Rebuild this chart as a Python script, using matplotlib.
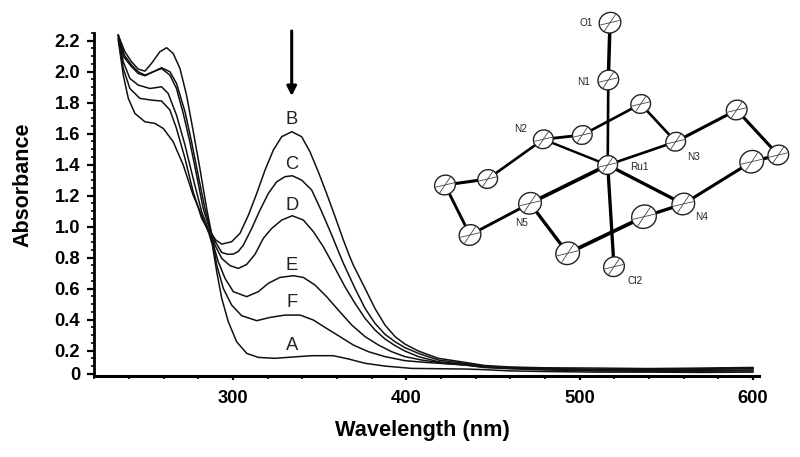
import matplotlib
matplotlib.use('Agg')
import matplotlib.pyplot as plt
from matplotlib.patches import Ellipse
from matplotlib.ticker import MultipleLocator

plt.rcParams['font.family'] = ['Liberation Sans', 'DejaVu Sans']

# Spectra (wavelength nm, absorbance)
tail_w = [445, 460, 480, 510, 540, 570, 600]

wl_a = [233.8, 236.7, 239.6, 243.4, 249.2, 254.9, 259.8, 265.5, 271.3, 277, 281.9, 286.1,
        288.1, 290.6, 293.5, 297.3, 302.1, 307.9, 314.6, 324.2, 333.9, 345.4, 357.9, 366.6,
        376.2, 387.7, 403.1, 433.9] + tail_w
abs_a = [2.204, 1.978, 1.828, 1.731, 1.677, 1.667, 1.634, 1.548, 1.398, 1.204, 1.075, .957,
         .882, .71, .538, .387, .258, .183, .157, .151, .159, .168, .168, .147,
         .119, .101, .086, .082, .078, .07, .066, .062, .062, .06, .062]

wl_b = [233.8, 237.6, 241.5, 245.3, 249.2, 253, 257.8, 261.7, 265.5, 269.4, 273.2, 277.1, 280.9, 284.8, 287.6,
        290, 293.5, 299.2, 304, 308.9, 313.7, 318.5, 323.3, 328.1, 333.9, 339.6, 344.4, 349.2, 354, 358.9,
        363.7, 367, 369.4, 376.2, 381.9, 387.7, 393.5, 399.2, 407, 418.5, 433.9] + tail_w
abs_b = [2.236, 2.129, 2.064, 2.017, 2.004, 2.054, 2.129, 2.155, 2.118, 2.021, 1.849, 1.613, 1.376, 1.118, .957,
         .915, .888, .903, .957, 1.075, 1.215, 1.366, 1.495, 1.581, 1.613, 1.581, 1.484, 1.355, 1.215, 1.065,
         .914, .817, .753, .602, .473, .366, .291, .243, .198, .151, .125, .105, .095, .09, .088, .085, .088, .092]

wl_c = [233.8, 237.3, 241.5, 245.3, 249.2, 254, 258.8, 263.6, 267.4, 272.3, 276.1, 279.9, 283.8, 287.6,
        290, 293.5, 297, 300.2, 303, 306, 310.8, 315.6, 320.4, 325.2, 330, 334.2, 339.6, 345.4, 351.2, 357,
        361, 363.7, 370.4, 376.2, 381.9, 387.7, 393.5, 399.2, 407, 418.5, 433.9] + tail_w
abs_c = [2.236, 2.107, 2.043, 2.0, 1.978, 2.0, 2.026, 2.0, 1.925, 1.742, 1.548, 1.333, 1.118, .957,
         .9, .834, .822, .824, .84, .882, .989, 1.108, 1.215, 1.29, 1.323, 1.329, 1.301, 1.237, 1.097, .946,
         .836, .764, .602, .473, .377, .306, .258, .22, .183, .14, .118, .10, .092, .086, .08, .082, .084, .088]

wl_d = [233.8, 236.9, 241.5, 245.3, 249.2, 254, 258.8, 263.6, 267.4, 271.3, 275.1, 279, 282.8, 287.3,
        289.6, 293.5, 298.3, 303.1, 307.9, 312.7, 317.5, 322.3, 328.1, 334.2, 340.6, 346.4, 352.1, 357.9,
        364.6, 370.4, 376.2, 381.9, 387.7, 393.5, 399.2, 407, 418.5, 433.9] + tail_w
abs_d = [2.236, 2.097, 2.032, 1.989, 1.974, 2.0, 2.021, 1.978, 1.892, 1.731, 1.548, 1.333, 1.118, .957,
         .882, .796, .749, .731, .757, .822, .925, .989, 1.043, 1.071, 1.043, .968, .871, .753,
         .613, .506, .409, .334, .276, .233, .198, .162, .129, .112, .098, .09, .084, .076, .078, .08, .084]

wl_e = [233.8, 236.7, 240.5, 245.3, 252.1, 258.8, 262.6, 267.4, 272.3, 277, 281.9, 286.7,
        288.7, 291.5, 295.4, 300.2, 307.9, 314.6, 320.4, 327.1, 334.8, 340.6, 347.3, 354, 360.8,
        368.5, 376.2, 383.9, 391.5, 399.2, 408.9, 422.3, 433.9] + tail_w
abs_e = [2.226, 2.064, 1.957, 1.914, 1.892, 1.903, 1.86, 1.72, 1.527, 1.312, 1.097, .957,
         .882, .774, .667, .581, .549, .581, .635, .673, .684, .673, .624, .549, .462,
         .366, .291, .237, .194, .162, .14, .118, .108, .094, .086, .08, .074, .072, .072, .076]

wl_f = [233.8, 236.7, 240.5, 246.3, 253, 258.8, 263.6, 267.4, 272.3, 277, 281.9, 286.7,
        288.7, 290.6, 294.4, 299.2, 305, 313.7, 321.4, 330, 338.7, 346.4, 354, 361.7,
        369.4, 378.1, 387.7, 399.2, 410.8, 433.9] + tail_w
abs_f = [2.215, 2.021, 1.892, 1.828, 1.817, 1.811, 1.753, 1.634, 1.441, 1.226, 1.054, .957,
         .882, .753, .602, .495, .426, .394, .415, .43, .43, .398, .344, .291,
         .237, .194, .162, .136, .125, .108, .092, .084, .076, .07, .068, .068, .07]

curve_labels = ['B', 'C', 'D', 'E', 'F', 'A']
curve_label_y = [1.69, 1.40, 1.14, .75, .51, .235]
y_ticks = [.05, .2, .4, .6, .8, 1.0, 1.2, 1.4, 1.6, 1.8, 2.0, 2.2]
y_tick_labels = ['0', '0.2', '0.4', '0.6', '0.8', '1.0', '1.2', '1.4', '1.6', '1.8', '2.0', '2.2']
x_ticks = [300, 400, 500, 600]

# Structure inset, positions in picture pixels
atom_names = ['O1', 'N1', 'Ru1', 'N2', 'N3', 'N4', 'N5', 'Cl2', 'C1', 'C2', 'C3', 'C4', 'C5', 'C6', 'C7', 'C8', 'C9', 'C10']
atom_x = [610, 608.3, 607.7, 543.3, 675.7, 683.3, 530, 614, 640.7, 582.3, 736.7, 778.3, 751.7, 644, 567.7, 470, 445, 487.7]
atom_y = [22.7, 80, 165, 139.3, 141.7, 204, 203.3, 266.7, 104, 135, 110, 155, 161.7, 216.7, 253.3, 235, 185, 179]
atom_r = [11, 10.5, 10, 10, 10, 11.5, 11.5, 10.5, 10, 10, 10.5, 10.5, 12, 12.5, 12, 11, 10.5, 10]
bonds = [('O1', 'N1', 3.2), ('N1', 'Ru1', 2.4), ('Ru1', 'Cl2', 3.0), ('Ru1', 'N2', 2.2), ('Ru1', 'N3', 2.4),
         ('Ru1', 'N4', 3.0), ('Ru1', 'N5', 3.4), ('N2', 'C2', 2.6), ('C2', 'C1', 2.4), ('C1', 'N3', 2.4),
         ('N3', 'C3', 2.8), ('C3', 'C4', 2.8), ('C4', 'C5', 3.0), ('C5', 'N4', 2.8), ('N4', 'C6', 3.0),
         ('C6', 'C7', 3.4), ('C7', 'N5', 3.0), ('N5', 'C8', 2.6), ('C8', 'C9', 2.6), ('C9', 'C10', 2.8), ('C10', 'N2', 2.4)]
label_names = ['O1', 'N1', 'N2', 'N3', 'Ru1', 'N4', 'N5', 'Cl2']
label_x = [585.7, 584, 521, 694, 639, 701.7, 521.7, 635]
label_y = [22.7, 81.7, 129.3, 156.7, 166.7, 216.7, 223.3, 281]

fig = plt.figure(figsize=(8, 4.57), dpi=100)
ax = fig.add_axes([94 / 800, 1 - 376 / 457, (759 - 94) / 800, (376 - 33) / 457])

for w, a in [(wl_a, abs_a), (wl_b, abs_b), (wl_c, abs_c), (wl_d, abs_d), (wl_e, abs_e), (wl_f, abs_f)]:
    ax.plot(w, a, color='#111111', linewidth=1.1, solid_joinstyle='round')

for name, y in zip(curve_labels, curve_label_y):
    ax.text(333.9, y, name, ha='center', va='center', fontsize=13.2, color='#222222')

ax.set_xlim(219.8, 603.5)
ax.set_ylim(0.037, 2.25)
ax.set_xticks(x_ticks)
ax.xaxis.set_minor_locator(MultipleLocator(20))
ax.set_yticks(y_ticks)
ax.set_yticklabels(y_tick_labels)
ax.yaxis.set_minor_locator(MultipleLocator(0.05))
ax.tick_params(axis='both', which='major', width=1.6, labelsize=13.2)
ax.tick_params(axis='x', which='major', length=3, pad=7)
ax.tick_params(axis='y', which='major', length=5, pad=5)
ax.tick_params(axis='both', which='minor', width=1.2, length=2.5)
for lab in ax.get_xticklabels() + ax.get_yticklabels():
    lab.set_fontweight('bold')
ax.spines['top'].set_visible(False)
ax.spines['right'].set_visible(False)
ax.spines['left'].set_linewidth(2)
ax.spines['bottom'].set_linewidth(2.2)
ax.set_xlabel('Wavelength (nm)', fontsize=15.7, fontweight='bold')
ax.xaxis.set_label_coords((422 - 94) / 665, -44 / 343, transform=ax.transAxes)
ax.set_ylabel('Absorbance', fontsize=15.5, fontweight='bold')
ax.yaxis.set_label_coords(-61 / 665, (376 - 185) / 343, transform=ax.transAxes)

# Overlay in picture pixels for the arrow and the structure
ov = fig.add_axes([0, 0, 1, 1])
ov.set_xlim(0, 800)
ov.set_ylim(457, 0)
ov.axis('off')
ov.patch.set_alpha(0)
ov.annotate('', xy=(291.7, 96), xytext=(291.7, 31),
            arrowprops=dict(arrowstyle='-|>,head_width=0.28,head_length=0.55', color='black', lw=2.2, shrinkA=0, shrinkB=0))

idx = {n: i for i, n in enumerate(atom_names)}
for a, b, lw in bonds:
    ov.plot([atom_x[idx[a]], atom_x[idx[b]]], [atom_y[idx[a]], atom_y[idx[b]]],
            color='black', linewidth=lw / 1.389 * 1.1, solid_capstyle='butt', zorder=2)
for x, y, r in zip(atom_x, atom_y, atom_r):
    ov.add_patch(Ellipse((x, y), 2 * r, 1.85 * r, angle=-25, facecolor='white', edgecolor='#222222', linewidth=1.0, zorder=3))
    ov.plot([x - 0.85 * r, x + 0.85 * r], [y + 0.2 * r, y - 0.2 * r], color='#444444', linewidth=0.6, zorder=4)
    ov.plot([x - 0.5 * r, x + 0.5 * r], [y + 0.75 * r, y - 0.75 * r], color='#444444', linewidth=0.6, zorder=4)
for name, x, y in zip(label_names, label_x, label_y):
    ov.text(x, y, name, ha='center', va='center', fontsize=7.2, color='#222222', zorder=5)

fig.savefig('out.png', dpi=100)
